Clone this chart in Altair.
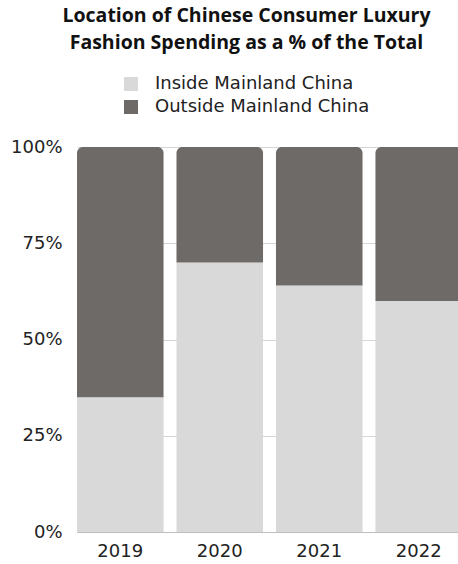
import altair as alt
import pandas as pd

years = ["2019", "2020", "2021", "2022"]
inside = [35, 70, 64, 60]
outside = [100 - v for v in inside]
series = ["Inside Mainland China", "Outside Mainland China"]
colors = ["#d9d9d9", "#6e6a67"]

rows = []
for y, i, o in zip(years, inside, outside):
    rows.append({"year": y, "location": series[0], "start": 0, "end": i})
    rows.append({"year": y, "location": series[1], "start": i, "end": i + o})
df = pd.DataFrame(rows)

FONT = "DejaVu Sans"
TFONT = "Open Sans"

x = alt.X("year:N", title=None, sort=years,
          scale=alt.Scale(paddingInner=0.13, paddingOuter=0, range=[0, 385]),
          axis=alt.Axis(labelAngle=0, labelFontSize=18, labelFont=FONT, labelColor="#222",
                        labelPadding=10, ticks=False, domainColor="#bdbdbd", grid=False))
y = alt.Y("start:Q", title=None,
          scale=alt.Scale(domain=[0, 100]),
          axis=alt.Axis(values=[0, 25, 50, 75, 100], labelExpr="datum.value + '%'",
                        labelFontSize=18, labelFont=FONT, labelColor="#222", labelPadding=15,
                        ticks=False, domain=False, gridColor="#d6d6d6"))
color = alt.Color("location:N", scale=alt.Scale(domain=series, range=colors),
                  legend=alt.Legend(title=None, orient="none", legendX=45, legendY=-72,
                                    direction="vertical", symbolType="square", symbolSize=196,
                                    symbolStrokeWidth=0, labelFontSize=18, labelFont=FONT,
                                    labelColor="#222", labelOffset=15, rowPadding=5,
                                    labelLimit=400))

base = alt.Chart(df).encode(x=x, y=y, y2="end:Q", color=color)

inside_bars = base.transform_filter(alt.datum.location == series[0]).mark_bar()
outside_bars = base.transform_filter(alt.datum.location == series[1]).mark_bar(
    cornerRadiusTopLeft=6, cornerRadiusTopRight=6)

chart = alt.layer(inside_bars, outside_bars).properties(
    width=381, height=385,
    padding={"left": 77, "top": 147, "right": 0, "bottom": 32},
    autosize=alt.AutoSizeParams(type="none"),
    title=alt.TitleParams(
        text=["Location of Chinese Consumer Luxury", "Fashion Spending as a % of the Total"],
        font=TFONT, fontSize=19.5, fontWeight="bold", color="#111", lineHeight=27,
        anchor="middle", dx=-21, offset=22),
).configure_view(stroke=None)

chart.save("out.html", embed_options={"renderer": "svg", "actions": False})
